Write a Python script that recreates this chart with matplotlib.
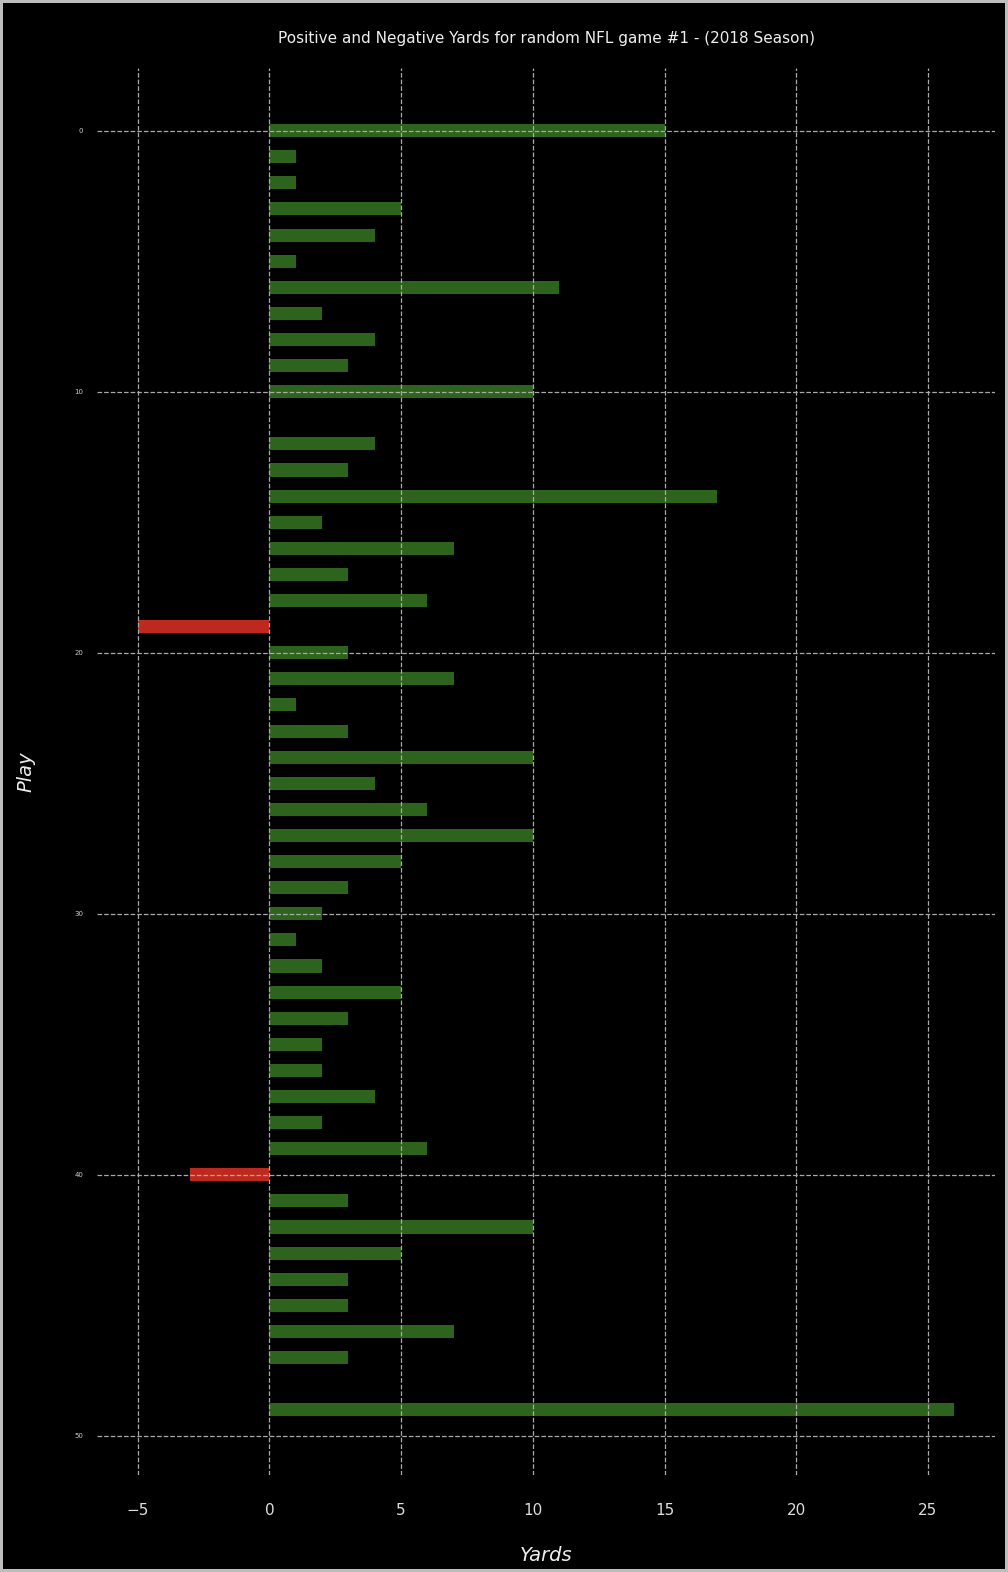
import matplotlib.pyplot as plt
import numpy as np

plays = list(range(50))
yards = [15, 1, 1, 5, 4, 1, 11, 2, 4, 3,
         10, 0, 4, 3, 17, 2, 7, 3, 6, -5,
         3, 7, 1, 3, 10, 4, 6, 10, 5, 3,
         2, 1, 2, 5, 3, 2, 2, 4, 2, 6,
         -3, 3, 10, 5, 3, 3, 7, 3, 0, 26]

title = "Positive and Negative Yards for random NFL game #1 - (2018 Season)"

fig = plt.figure(figsize=(10.08, 15.72), dpi=100, facecolor="black",
                 edgecolor="#bdbdbd", linewidth=3)
ax = fig.add_axes([97/1008, 97/1572, 898/1008, 1407/1572])
ax.set_facecolor("black")

colors = ["#2d631c" if v >= 0 else "#bf291d" for v in yards]
ax.barh(plays, yards, height=0.5, color=colors, zorder=1)

ax.grid(True, color="#aaaaaa", linestyle="--", linewidth=0.9, zorder=2)
ax.set_axisbelow(False)
for s in ax.spines.values():
    s.set_visible(False)

ax.set_ylim(51.5, -2.4)
ax.set_yticks(np.arange(0, 51, 10))
ax.tick_params(axis="y", labelsize=5, colors="#cccccc", length=0, pad=10)
ax.tick_params(axis="x", labelsize=11, colors="#dddddd", length=0, pad=20)

ax.set_title(title, color="#eeeeee", fontsize=11, pad=18)
ax.set_xlabel("Yards", color="#eeeeee", fontsize=14, style="italic", labelpad=20)
ax.set_ylabel("Play", color="#eeeeee", fontsize=14, style="italic", labelpad=28)

fig.savefig("out.png", dpi=100, facecolor="black", edgecolor="#bdbdbd")
